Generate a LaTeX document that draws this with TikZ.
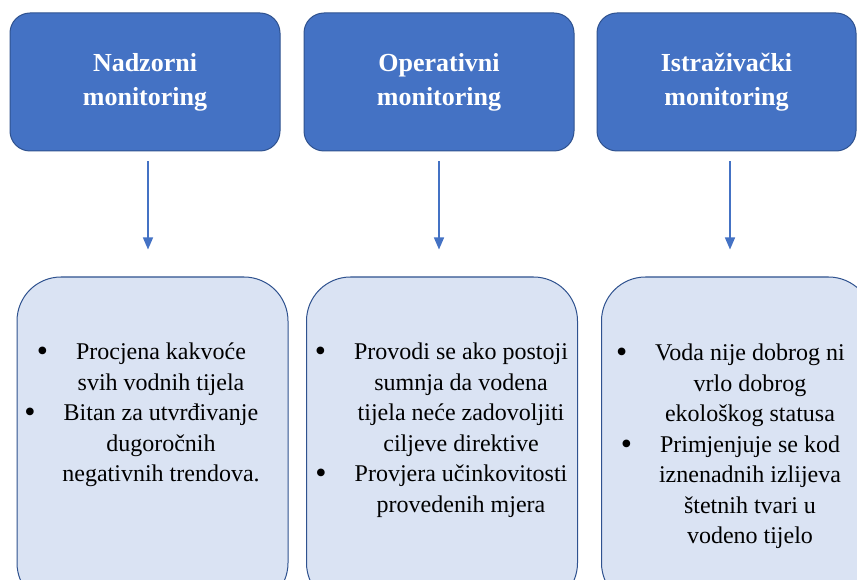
\documentclass[tikz,border=0pt]{standalone}
\usepackage{fontspec}
\setmainfont{Liberation Serif}
\usepackage{xcolor}
\usetikzlibrary{arrows.meta}
\definecolor{topblue}{HTML}{4472C4}
\definecolor{topedge}{HTML}{2F528F}
\definecolor{lightblue}{HTML}{DAE3F3}
\tikzstyle{head} = [rectangle, rounded corners=20pt, draw=topedge, fill=topblue, line width=1pt, text=white, font=\fontsize{26}{34}\selectfont\bfseries, align=center, minimum height=138pt]
\tikzstyle{listbox} = [rectangle, rounded corners=44pt, draw=topedge, fill=lightblue, line width=1pt, minimum width=271pt, minimum height=330pt]
\tikzstyle{items} = [align=center, font=\fontsize{24}{30.5}\selectfont, anchor=north, inner sep=0pt]
\tikzstyle{line} = [draw=topblue, line width=1.3pt, -{Triangle[width=10pt,length=12pt]}, shorten <=10pt, shorten >=27pt]
\newcommand{\bul}{\llap{\raisebox{-2pt}{\fontsize{32}{32}\selectfont\textbullet}\hspace{28pt}}}

\begin{document}
\begin{tikzpicture}[x=1pt,y=-1pt]
\clip (0,0) rectangle (857,580);
\node [head, minimum width=270pt] (nadzorni) at (145,82) {Nadzorni\\monitoring};
\node [head, minimum width=270pt] (operativni) at (439,82) {Operativni\\monitoring};
\node [head, minimum width=259pt] (istrazivacki) at (726.5,82) {Istraživački\\monitoring};
\node [listbox] (nadzorniopis) at (152.5,442) {};
\node [listbox] (operativniopis) at (442,442) {};
\node [listbox] (istrazivackiopis) at (737,442) {};
\node [items] (nadzornitekst) at (161,343) {\bul Procjena kakvoće\\svih vodnih tijela\\\bul Bitan za utvrđivanje\\dugoročnih\\negativnih trendova.};
\node [items] (operativnitekst) at (461,343) {\bul Provodi se ako postoji\\sumnja da vodena\\tijela neće zadovoljiti\\ciljeve direktive\\\bul Provjera učinkovitosti\\provedenih mjera};
\node [items] (istrazivackitekst) at (750,344) {\bul Voda nije dobrog ni\\vrlo dobrog\\ekološkog statusa\\\bul Primjenjuje se kod\\iznenadnih izlijeva\\štetnih tvari u\\vodeno tijelo};
\path [line] ([xshift=3pt]nadzorni.south) -- ([xshift=3pt]nadzorni.south |- nadzorniopis.north);
\path [line] (operativni.south) -- (operativni.south |- operativniopis.north);
\path [line] ([xshift=3.5pt]istrazivacki.south) -- ([xshift=3.5pt]istrazivacki.south |- istrazivackiopis.north);
\end{tikzpicture}
\end{document}
